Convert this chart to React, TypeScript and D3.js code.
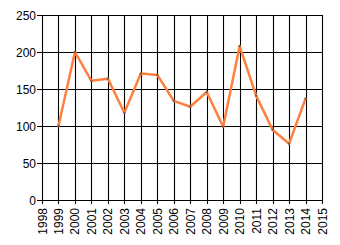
import React from "react";
import * as d3 from "d3";

const years = [1999, 2000, 2001, 2002, 2003, 2004, 2005, 2006, 2007, 2008, 2009, 2010, 2011, 2012, 2013, 2014];
const values = [100, 200, 161, 164, 118, 171, 169, 134, 126, 146, 99, 208, 141, 95, 76, 137];
const xTicks = d3.range(1998, 2016);
const yTicks = [0, 50, 100, 150, 200, 250];

export default function App() {
  const W = 340, H = 245;
  const left = 42, right = 322, top = 15, bottom = 200;
  const x = d3.scaleLinear().domain([1998, 2015]).range([left, right]);
  const y = d3.scaleLinear().domain([0, 250]).range([bottom, top]);
  const line = d3.line<number>().x((_, i) => x(years[i])).y((d) => y(d));
  const font = "Arial, 'Liberation Sans', sans-serif";
  return (
    <svg width={W} height={H} style={{ position: "absolute", left: 0, top: 0 }}>
      <rect width={W} height={H} fill="#fff" />
      {yTicks.map((t) => (
        <g key={"y" + t}>
          <line x1={left - 5} x2={right} y1={Math.round(y(t)) + 0.5} y2={Math.round(y(t)) + 0.5} stroke="#000" strokeWidth={1.1} />
          <text x={left - 6} y={y(t) + 4.5} textAnchor="end" fontSize={12} fontFamily={font} fill="#000">{t}</text>
        </g>
      ))}
      {xTicks.map((t) => (
        <g key={"x" + t}>
          <line x1={Math.round(x(t)) + 0.5} x2={Math.round(x(t)) + 0.5} y1={top} y2={bottom + 4} stroke="#000" strokeWidth={1.1} />
          <text transform={`translate(${x(t) + 4.5},${bottom + 8}) rotate(-90)`} textAnchor="end" fontSize={12} fontFamily={font} fill="#000">{t}</text>
        </g>
      ))}
      <path d={line(values) || ""} fill="none" stroke="#FF7F3F" strokeWidth={2.5} strokeLinejoin="round" />
      {values.map((v, i) => (
        <circle key={i} cx={x(years[i])} cy={y(v)} r={1.2} fill="#8a5a40" />
      ))}
    </svg>
  );
}
